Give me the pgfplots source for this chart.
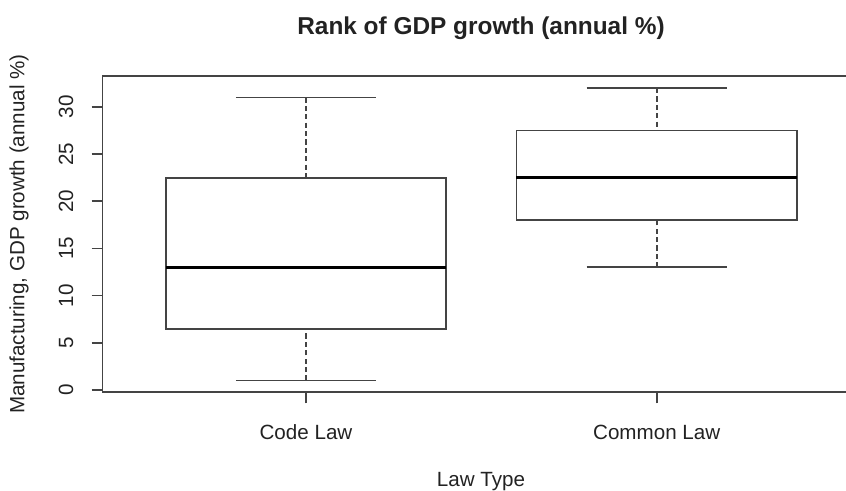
\documentclass[border=0pt]{standalone}
\usepackage{fontspec}
\setmainfont{Liberation Sans}
\usepackage{pgfplots}
\pgfplotsset{compat=1.18}
\usepgfplotslibrary{statistics}
\definecolor{lineg}{HTML}{444444}
\definecolor{txt}{HTML}{222222}
\begin{document}
\begin{tikzpicture}
\useasboundingbox (0,0) rectangle (423pt,245.5pt);
\clip (0,0) rectangle (423pt,245.5pt);
\begin{axis}[
  at={(51.3pt,49.35pt)}, anchor=south west,
  width=378.75pt, height=158pt, scale only axis,
  xmin=0.42, xmax=2.58, ymin=-0.24, ymax=33.24,
  axis line style={lineg, line width=0.85pt},
  xtick={1,2}, xticklabels={Code Law, Common Law},
  ytick={0,5,...,30},
  xtick pos=left, ytick pos=left,
  tick align=outside, major tick length=5.5pt,
  tick style={lineg, line width=0.85pt},
  /pgf/number format/assume math mode=true,
  ticklabel style={font=\fontsize{10.3}{12}\selectfont, text=txt},
  yticklabel style={rotate=90, anchor=south},
  yticklabel shift=5.6pt,
  xticklabel shift=7.3pt,
  boxplot/draw direction=y,
  boxplot/box extend=0.8,
  boxplot/whisker extend=0.8,
  boxplot/draw/median/.code={
    \draw[black, line width=1.7pt]
      (boxplot box cs:\pgfplotsboxplotvalue{median},0) --
      (boxplot box cs:\pgfplotsboxplotvalue{median},1);
  },
  boxplot/draw/lower whisker/.code={
    \draw[dash pattern=on 2.6pt off 1.6pt]
      (boxplot whisker cs:\pgfplotsboxplotvalue{lower whisker},0.5) --
      (boxplot whisker cs:\pgfplotsboxplotvalue{lower quartile},0.5);
    \draw[solid]
      (boxplot whisker cs:\pgfplotsboxplotvalue{lower whisker},0.25) --
      (boxplot whisker cs:\pgfplotsboxplotvalue{lower whisker},0.75);
  },
  boxplot/draw/upper whisker/.code={
    \draw[dash pattern=on 2.6pt off 1.6pt]
      (boxplot whisker cs:\pgfplotsboxplotvalue{upper whisker},0.5) --
      (boxplot whisker cs:\pgfplotsboxplotvalue{upper quartile},0.5);
    \draw[solid]
      (boxplot whisker cs:\pgfplotsboxplotvalue{upper whisker},0.25) --
      (boxplot whisker cs:\pgfplotsboxplotvalue{upper whisker},0.75);
  },
]
\addplot[lineg, line width=0.85pt, boxplot prepared={
  draw position=1, lower whisker=1, lower quartile=6.5,
  median=13, upper quartile=22.5, upper whisker=31}] coordinates {};
\addplot[lineg, line width=0.85pt, boxplot prepared={
  draw position=2, lower whisker=13, lower quartile=18,
  median=22.5, upper quartile=27.5, upper whisker=32}] coordinates {};
\end{axis}
\node[text=txt, font=\bfseries\fontsize{12.2}{14}\selectfont] at (240.5pt,231.5pt) {Rank of GDP growth (annual \%)};
\node[text=txt, font=\fontsize{10.3}{12}\selectfont] at (240.5pt,4.5pt) {Law Type};
\node[text=txt, rotate=90, font=\fontsize{10.3}{12}\selectfont] at (9.5pt,128.5pt) {Manufacturing, GDP growth (annual \%)};
\end{tikzpicture}
\end{document}
